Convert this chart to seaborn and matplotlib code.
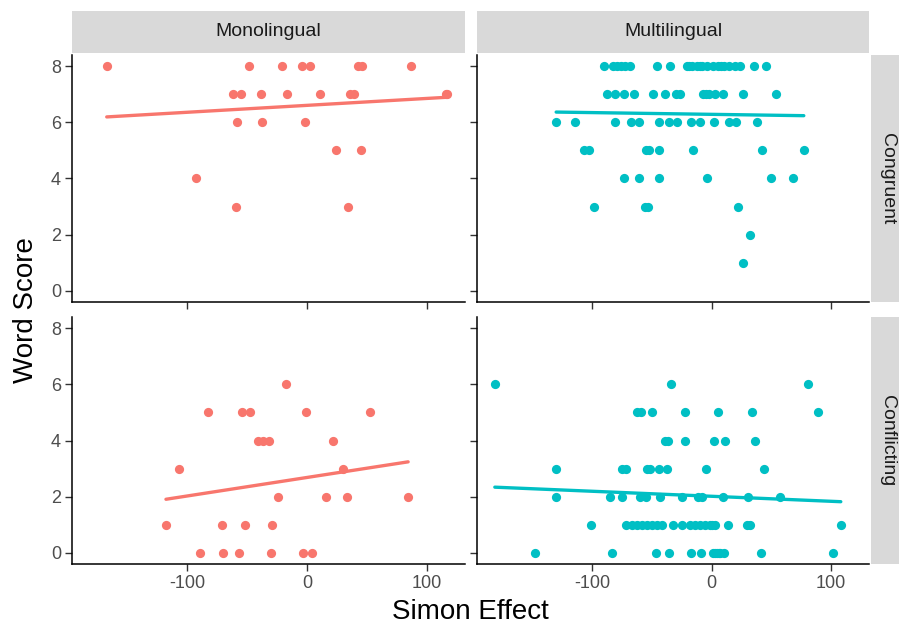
import matplotlib
matplotlib.use("Agg")
import matplotlib.pyplot as plt
import seaborn as sns
from matplotlib.patches import Rectangle

# Simon effect (x) and word score (y), one pair of lists per panel
mono_cong_x = [-167.5, -48.6, -21.1, -4.2, 2.8, 42.5, 46.0, 86.7,
               -61.9, -55.0, -38.3, -17.2, 10.6, 36.1, 39.4, 115.8, 117.0,
               -58.6, -37.8, -1.9,
               24.4, 45.0,
               -92.5,
               -59.4, 33.9]
mono_cong_y = [8] * 8 + [7] * 9 + [6] * 3 + [5] * 2 + [4] + [3] * 2

multi_cong_x = [-90.2, -82.7, -79.5, -76.0, -72.7, -68.5, -45.8, -34.9,
                -20.7, -18.5, -16.5, -12.3, -10.0, -8.1, -3.9, 1.1, 5.3, 8.0, 10.3, 14.5, 19.5, 23.7,
                35.4, 45.5,
                -88.0, -80.5, -73.2, -65.1, -49.4, -39.4, -30.0, -26.5,
                -7.0, -4.5, -2.0, 2.8, 9.8, 26.0, 54.0,
                -130.2, -114.8, -81.0, -67.9, -60.9, -43.9, -35.8, -28.8, -17.6, -9.8, 2.2, 14.7, 20.4, 38.2,
                -106.7, -102.5, -55.0, -52.3, -44.2, -15.9, 42.4, 77.3,
                -73.2, -60.7, -44.2, -3.9, 49.7, 68.1,
                -98.6, -55.9, -53.1, 22.3,
                32.1,
                26.2]
multi_cong_y = [8] * 24 + [7] * 15 + [6] * 14 + [5] * 8 + [4] * 6 + [3] * 4 + [2] + [1]

mono_conf_x = [-18.0,
               -82.8, -54.4, -47.5, -1.1, 52.8,
               -41.1, -36.9, -32.2, 21.4,
               -107.2, 29.7,
               -24.4, 15.8, 33.3, 84.4,
               -118.0, -71.1, -51.7, -29.2,
               -89.7, -70.5, -56.7, -30.6, -3.1, 3.9]
mono_conf_y = [6] + [5] * 5 + [4] * 4 + [3] * 2 + [2] * 4 + [1] * 4 + [0] * 6

multi_conf_x = [-181.6, -34.1, 80.4,
                -62.8, -58.7, -50.3, -22.4, 5.6, 33.5, 89.3,
                -39.1, -36.4, -22.4, 1.9, 11.1, 36.3,
                -130.7, -75.4, -71.8, -54.5, -51.7, -43.9, -37.7, -4.8, 43.8,
                -130.5, -85.2, -75.4, -60.1, -55.1, -43.3, -25.1, -11.5, -8.4, 9.7, 30.7, 57.3,
                -101.1, -71.8, -66.8, -62.6, -58.4, -54.2, -50.0, -45.8, -41.6, -32.4, -24.9,
                -18.2, -14.0, -9.8, -5.6, -1.4, 0.5, 2.8, 13.7, 29.6, 32.1, 108.3,
                -148.0, -83.8, -46.7, -35.5, -16.8, -9.2, 0.8, 2.5, 4.2, 6.0, 7.5, 10.3, 41.3, 101.9]
multi_conf_y = [6] * 3 + [5] * 7 + [4] * 6 + [3] * 9 + [2] * 12 + [1] * 22 + [0] * 14

groups = ["Monolingual", "Multilingual"]
conditions = ["Congruent", "Conflicting"]
colors = ["#F8766D", "#00BFC4"]
y_ticks = [0, 2, 4, 6, 8]
x_ticks = [-100, 0, 100]

panels = {
    (0, 0): (mono_cong_x, mono_cong_y),
    (0, 1): (multi_cong_x, multi_cong_y),
    (1, 0): (mono_conf_x, mono_conf_y),
    (1, 1): (multi_conf_x, multi_conf_y),
}

sns.set_style("white")
plt.rcParams["font.family"] = ["Liberation Sans", "DejaVu Sans"]
plt.rcParams["axes.unicode_minus"] = False

W, H = 899, 631
fig = plt.figure(figsize=(W / 100, H / 100), dpi=100)

col_px = [(72, 393), (477, 392)]
row_px = [(55, 302), (317, 564)]

all_x = mono_cong_x + multi_cong_x + mono_conf_x + multi_conf_x
xr = max(all_x) - min(all_x)
xlim = (min(all_x) - 0.05 * xr, max(all_x) + 0.05 * xr)


def frac_rect(x0, y0, x1, y1):
    return (x0 / W, 1 - y1 / H, (x1 - x0) / W, (y1 - y0) / H)


for (r, c), (xs, ys) in panels.items():
    x0, w = col_px[c]
    y0, y1 = row_px[r]
    ax = fig.add_axes(frac_rect(x0, y0, x0 + w, y1))
    sns.regplot(x=xs, y=ys, ax=ax, ci=None, color=colors[c],
                scatter_kws={"s": 44, "alpha": 1, "linewidths": 0},
                line_kws={"linewidth": 2.4})
    ax.set_xlim(*xlim)
    ax.set_ylim(-0.4, 8.4)
    ax.set_xticks(x_ticks)
    ax.set_yticks(y_ticks)
    for s in ["top", "right"]:
        ax.spines[s].set_visible(False)
    for s in ["left", "bottom"]:
        ax.spines[s].set_color("black")
        ax.spines[s].set_linewidth(1.1)
    ax.tick_params(axis="both", length=5, width=1, color="#333333",
                   labelsize=13, labelcolor="#4D4D4D", pad=3, direction="out",
                   left=True, bottom=True)
    if c != 0:
        ax.tick_params(axis="y", labelleft=False)
    if r != 1:
        ax.tick_params(axis="x", labelbottom=False)
    ax.set_xlabel("")
    ax.set_ylabel("")

# facet strips
for c, name in enumerate(groups):
    x0, w = col_px[c]
    fig.add_artist(Rectangle((x0 / W, 1 - 53 / H), w / W, 42 / H,
                             transform=fig.transFigure, facecolor="#D9D9D9",
                             edgecolor="none"))
    fig.text((x0 + w / 2) / W, 1 - 32 / H, name, ha="center", va="center",
             fontsize=14, color="#1A1A1A")

for r, name in enumerate(conditions):
    y0, y1 = row_px[r]
    fig.add_artist(Rectangle((871 / W, 1 - y1 / H), 42 / W, (y1 - y0) / H,
                             transform=fig.transFigure, facecolor="#D9D9D9",
                             edgecolor="none"))
    fig.text(888 / W, 1 - (y0 + y1) / 2 / H, name, ha="center", va="center",
             rotation=-90, fontsize=14, color="#1A1A1A")

fig.text(470 / W, 1 - 612 / H, "Simon Effect", ha="center", va="center",
         fontsize=20, color="black")
fig.text(26 / W, 1 - 310 / H, "Word Score", ha="center", va="center",
         rotation=90, fontsize=20, color="black")

fig.savefig("out.png", dpi=100)
